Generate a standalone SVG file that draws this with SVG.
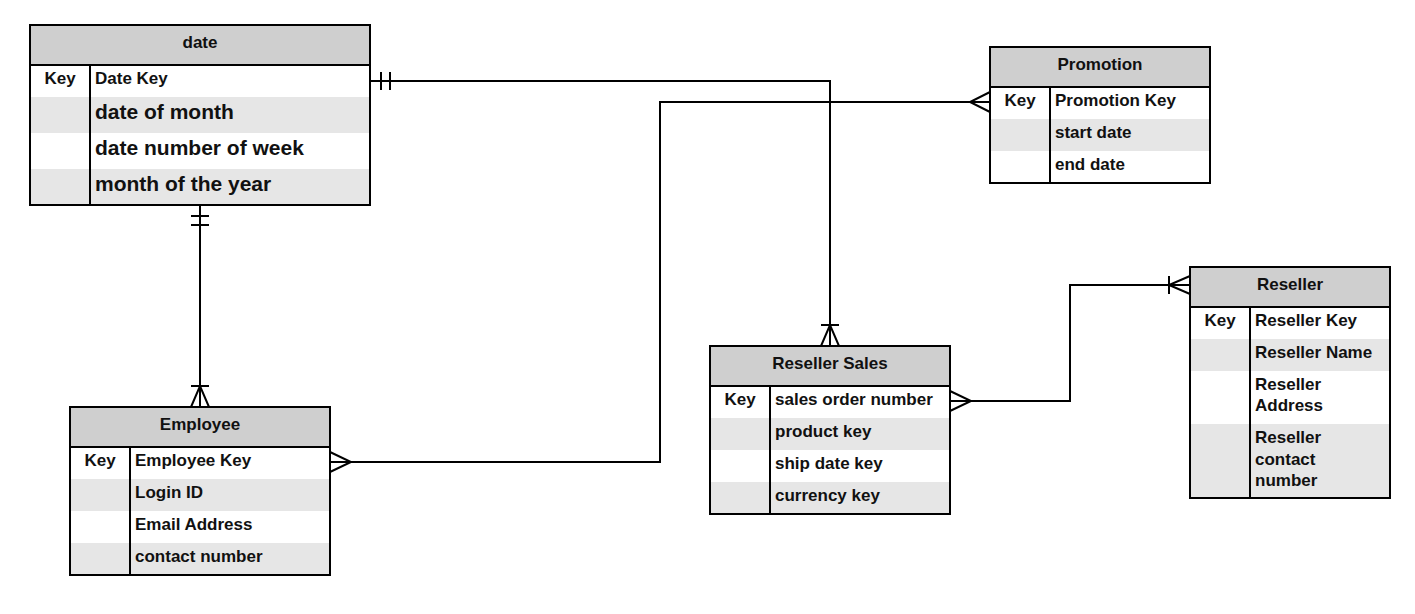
<svg xmlns="http://www.w3.org/2000/svg" width="1415" height="614" viewBox="0 0 1415 614">
<style>
text{font-family:"Liberation Sans",Arial,sans-serif;font-weight:bold;fill:#111}
.h{fill:#cfcfcf}
.alt{fill:#e6e6e6}
.w{fill:#fff}
.box{fill:none;stroke:#000;stroke-width:2}
.t{font-size:17px}
.big{font-size:21px}
.c{text-anchor:middle}
.ln{fill:none;stroke:#000;stroke-width:2}
</style>
<rect width="1415" height="614" fill="#fff"/>

<g id="date">
<rect class="h" x="30" y="25" width="340" height="40"/>
<rect class="w" x="30" y="65" width="340" height="32"/>
<rect class="alt" x="30" y="97" width="340" height="36"/>
<rect class="w" x="30" y="133" width="340" height="36"/>
<rect class="alt" x="30" y="169" width="340" height="36"/>
<rect class="box" x="30" y="25" width="340" height="180"/>
<line class="ln" x1="30" y1="65" x2="370" y2="65"/>
<line class="ln" x1="90" y1="65" x2="90" y2="205"/>
<text class="t c" x="200" y="48">date</text>
<text class="t c" x="60" y="84">Key</text>
<text class="t" x="95" y="84">Date Key</text>
<text class="big" x="95" y="119">date of month</text>
<text class="big" x="95" y="155">date number of week</text>
<text class="big" x="95" y="191">month of the year</text>
</g>

<g id="promotion">
<rect class="h" x="990" y="47" width="220" height="40"/>
<rect class="w" x="990" y="87" width="220" height="32"/>
<rect class="alt" x="990" y="119" width="220" height="32"/>
<rect class="w" x="990" y="151" width="220" height="32"/>
<rect class="box" x="990" y="47" width="220" height="136"/>
<line class="ln" x1="990" y1="87" x2="1210" y2="87"/>
<line class="ln" x1="1050" y1="87" x2="1050" y2="183"/>
<text class="t c" x="1100" y="70">Promotion</text>
<text class="t c" x="1020" y="106">Key</text>
<text class="t" x="1055" y="106">Promotion Key</text>
<text class="t" x="1055" y="138">start date</text>
<text class="t" x="1055" y="170">end date</text>
</g>

<g id="reseller-sales">
<rect class="h" x="710" y="346" width="240" height="40"/>
<rect class="w" x="710" y="386" width="240" height="32"/>
<rect class="alt" x="710" y="418" width="240" height="32"/>
<rect class="w" x="710" y="450" width="240" height="32"/>
<rect class="alt" x="710" y="482" width="240" height="32"/>
<rect class="box" x="710" y="346" width="240" height="168"/>
<line class="ln" x1="710" y1="386" x2="950" y2="386"/>
<line class="ln" x1="770" y1="386" x2="770" y2="514"/>
<text class="t c" x="830" y="369">Reseller Sales</text>
<text class="t c" x="740" y="405">Key</text>
<text class="t" x="775" y="405">sales order number</text>
<text class="t" x="775" y="437">product key</text>
<text class="t" x="775" y="469">ship date key</text>
<text class="t" x="775" y="501">currency key</text>
</g>

<g id="reseller">
<rect class="h" x="1190" y="267" width="200" height="40"/>
<rect class="w" x="1190" y="307" width="200" height="32"/>
<rect class="alt" x="1190" y="339" width="200" height="32"/>
<rect class="w" x="1190" y="371" width="200" height="53"/>
<rect class="alt" x="1190" y="424" width="200" height="74"/>
<rect class="box" x="1190" y="267" width="200" height="231"/>
<line class="ln" x1="1190" y1="307" x2="1390" y2="307"/>
<line class="ln" x1="1250" y1="307" x2="1250" y2="498"/>
<text class="t c" x="1290" y="290">Reseller</text>
<text class="t c" x="1220" y="326">Key</text>
<text class="t" x="1255" y="326">Reseller Key</text>
<text class="t" x="1255" y="358">Reseller Name</text>
<text class="t" x="1255" y="390">Reseller</text>
<text class="t" x="1255" y="411">Address</text>
<text class="t" x="1255" y="443">Reseller</text>
<text class="t" x="1255" y="465">contact</text>
<text class="t" x="1255" y="486">number</text>
</g>

<g id="employee">
<rect class="h" x="70" y="407" width="260" height="40"/>
<rect class="w" x="70" y="447" width="260" height="32"/>
<rect class="alt" x="70" y="479" width="260" height="32"/>
<rect class="w" x="70" y="511" width="260" height="32"/>
<rect class="alt" x="70" y="543" width="260" height="32"/>
<rect class="box" x="70" y="407" width="260" height="168"/>
<line class="ln" x1="70" y1="447" x2="330" y2="447"/>
<line class="ln" x1="130" y1="447" x2="130" y2="575"/>
<text class="t c" x="200" y="430">Employee</text>
<text class="t c" x="100" y="466">Key</text>
<text class="t" x="135" y="466">Employee Key</text>
<text class="t" x="135" y="498">Login ID</text>
<text class="t" x="135" y="530">Email Address</text>
<text class="t" x="135" y="562">contact number</text>
</g>

<g id="connectors" class="ln">
<path class="ln" d="M370 81 H830 V346"/>
<path class="ln" d="M381 72 V90 M390 72 V90"/>
<path class="ln" d="M821 325 H839 M821 346 L830 325 L839 346"/>
<path class="ln" d="M990 102 H660 V462 H330"/>
<path class="ln" d="M990 92 L970 102 L990 112"/>
<path class="ln" d="M330 452 L351 462 L330 472"/>
<path class="ln" d="M200 205 V407"/>
<path class="ln" d="M191 216 H209 M191 225 H209"/>
<path class="ln" d="M191 386 H209 M191 407 L200 386 L209 407"/>
<path class="ln" d="M950 401 H1070 V285 H1190"/>
<path class="ln" d="M950 391 L971 401 L950 411"/>
<path class="ln" d="M1169 276 V294 M1190 276 L1169 285 L1190 294"/>
</g>
</svg>
